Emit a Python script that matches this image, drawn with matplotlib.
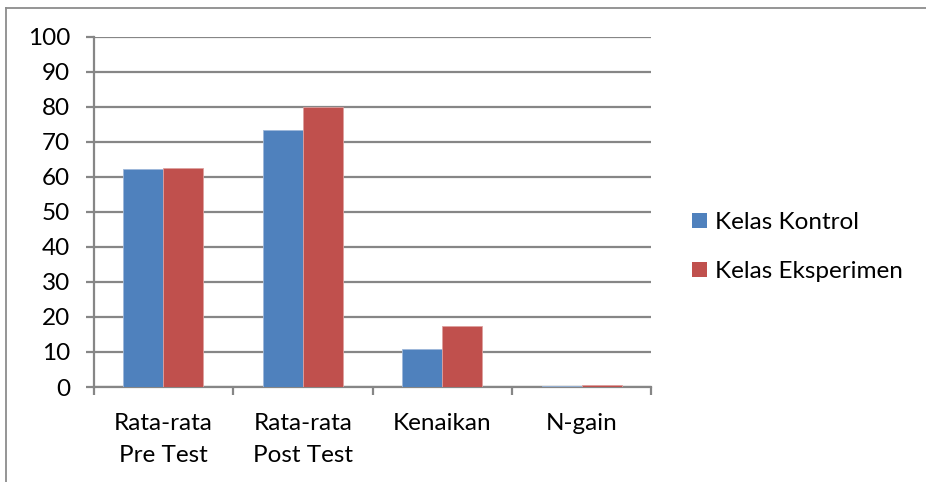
import matplotlib
matplotlib.use("Agg")
import matplotlib.pyplot as plt
from matplotlib.lines import Line2D
from matplotlib.patches import Patch
import numpy as np

categories = ["Rata-rata\nPre Test", "Rata-rata\nPost Test", "Kenaikan", "N-gain"]
kontrol = [62.3, 73.4, 10.9, 0.3]
eksperimen = [62.6, 80.0, 17.3, 0.5]
series_names = ["Kelas Kontrol", "Kelas Eksperimen"]
yticks = list(range(0, 101, 10))

BLUE = "#4F81BD"
RED = "#C0504D"
GRID = "#868686"
FONT = "Lato"
FS = 17.5

W, H = 926, 482
fig = plt.figure(figsize=(W / 100, H / 100), dpi=100)
ax = fig.add_axes([93.7 / W, 1 - 387 / H, (651.5 - 93.7) / W, (387 - 36.7) / H])

x = np.arange(len(categories))
bw = 0.287
ax.bar(x - bw / 2, kontrol, width=bw, color=BLUE, edgecolor="#9DB7DA", linewidth=0.6, zorder=3)
ax.bar(x + bw / 2, eksperimen, width=bw, color=RED, edgecolor="#DDA09F", linewidth=0.6, zorder=3)

ax.set_xlim(-0.5, len(categories) - 0.5)
ax.set_ylim(0, 100)
ax.set_yticks(yticks)
ax.set_yticklabels([str(t) for t in yticks], fontfamily=FONT, fontsize=FS)
ax.set_xticks(np.arange(len(categories) + 1) - 0.5, minor=False)
ax.set_xticklabels([])
ax.set_xticks(x, minor=True)
ax.set_xticklabels(categories, minor=True, fontfamily=FONT, fontsize=FS, linespacing=1.6)

ax.yaxis.grid(True, color=GRID, linewidth=1.6, zorder=0)
ax.set_axisbelow(True)
for side in ("top", "right"):
    ax.spines[side].set_visible(False)
for side in ("left", "bottom"):
    ax.spines[side].set_color(GRID)
    ax.spines[side].set_linewidth(1.6)

ax.tick_params(axis="y", which="major", direction="out", length=6, width=1.6, color=GRID, pad=11)
ax.tick_params(axis="x", which="major", direction="out", length=6, width=1.6, color=GRID)
ax.tick_params(axis="x", which="minor", length=0, pad=19)

handles = [Patch(facecolor=BLUE, edgecolor="none"), Patch(facecolor=RED, edgecolor="none")]
fig.legend(handles, series_names, loc="center left",
           bbox_to_anchor=(680 / W, 1 - 247 / H), frameon=False,
           prop={"family": FONT, "size": FS}, handlelength=0.6, handleheight=0.6,
           handletextpad=0.35, labelspacing=1.15, borderpad=0)

# outer chart border
fig.add_artist(Line2D([6 / W, 1.0], [1 - 8 / H, 1 - 8 / H], transform=fig.transFigure, color="#8C8C8C", linewidth=1.3))
fig.add_artist(Line2D([6 / W, 6 / W], [1 - 8 / H, 0.0], transform=fig.transFigure, color="#8C8C8C", linewidth=1.3))

fig.savefig("out.png", dpi=100)
